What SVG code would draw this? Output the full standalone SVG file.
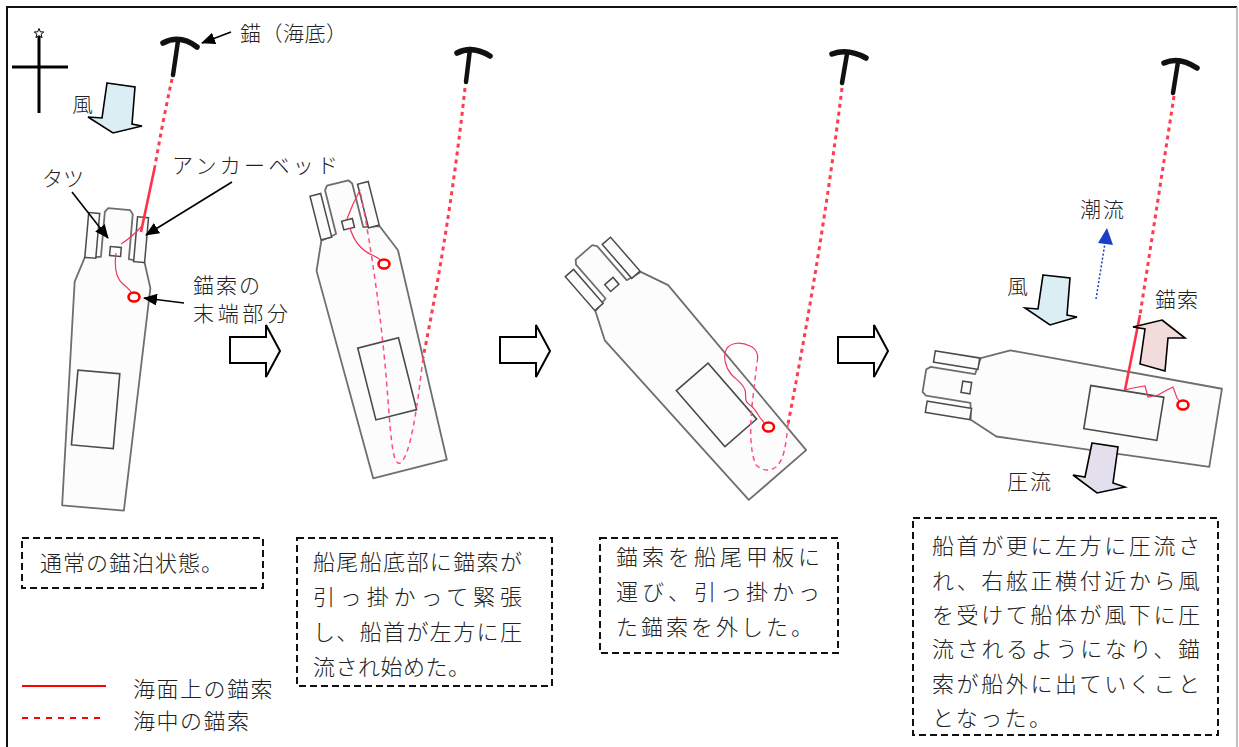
<svg xmlns="http://www.w3.org/2000/svg" width="1239" height="747" viewBox="0 0 1239 747">
<style>
text{font-family:"Noto Sans CJK JP","Noto Sans CJK SC",sans-serif;font-weight:300;fill:#222}
.lbl{font-size:21px}
.note{font-size:22px}
.hull{fill:#fcfcfc;stroke:#6e6e6e;stroke-width:1.8;stroke-linejoin:round}
.fit{fill:#fcfcfc;stroke:#4a4a4a;stroke-width:1.5}
.house{fill:none;stroke:#4a4a4a;stroke-width:1.6}
.sea{fill:none;stroke:#ff3b4e;stroke-width:3;stroke-dasharray:4 4}
.top{fill:none;stroke:#ff3048;stroke-width:2.6}
.thin{fill:none;stroke:#f2365a;stroke-width:1.2}
.loop{fill:none;stroke:#ff4f78;stroke-width:1.5;stroke-dasharray:5 4}
.end{fill:none;stroke:#ff0000;stroke-width:2.6}
.anc{fill:none;stroke:#111;stroke-linecap:round}
.box{fill:none;stroke:#111;stroke-width:2;stroke-dasharray:7 4}
.step{fill:#fff;stroke:#000;stroke-width:2}
.ptr{fill:none;stroke:#000;stroke-width:1.6;marker-end:url(#ah)}
.force{stroke:#000;stroke-width:1.6;stroke-linejoin:miter}
</style>
<defs>
  <marker id="ah" viewBox="0 0 14 12" refX="13" refY="6" markerWidth="14" markerHeight="12" markerUnits="userSpaceOnUse" orient="auto" preserveAspectRatio="none">
    <path d="M0,0 L14,6 L0,12 Z" fill="#000"/>
  </marker>
  <!-- standard hull outline: stern centre at origin, bow toward -y -->
  <path id="hull" class="hull" d="M-38,0 L-42,-215 L-30,-243 L-14,-246 L-14,-291 L-11,-295 L11,-295 L14,-291 L14,-246 L30,-243 L42,-215 L38,0 Z"/>
  <!-- anchor beds and bitt near the bow -->
  <g id="fittings">
    <rect class="fit" x="-30" y="-289" width="11" height="45"/>
    <rect class="fit" x="19" y="-289" width="11" height="45"/>
    <rect class="fit" x="-5.5" y="-257" width="11" height="9"/>
  </g>
  <rect id="house" class="house" x="-21" y="-130" width="42" height="74"/>
  <path id="step" class="step" d="M0,12 L36,12 L36,0 L50,26 L36,52 L36,38 L0,38 Z"/>
</defs>

<rect width="1239" height="747" fill="#fff"/>
<!-- frame -->
<path d="M7,747 L7,7 L1237,7" fill="none" stroke="#111" stroke-width="2"/>
<path d="M1237,7 L1237,747" fill="none" stroke="#aaa" stroke-width="1.5"/>

<!-- compass -->
<g id="compass">
  <path d="M39,36 L39,113 M12,67 L68,67" stroke="#000" stroke-width="3" fill="none"/>
  <path d="M39,28.5 L40.3,31.8 L43.8,32 L41.1,34.2 L42,37.6 L39,35.7 L36,37.6 L36.9,34.2 L34.2,32 L37.7,31.8 Z" fill="#fff" stroke="#000" stroke-width="1"/>
</g>

<!-- ship 1: normal anchoring -->
<g id="ship-1">
  <g transform="translate(93,508) rotate(5)">
    <path class="hull" d="M-31,0 L-38,-224 L-30,-249 L-14,-251 L-14,-296 L-11,-300 L11,-300 L14,-296 L14,-251 L30,-249 L38,-224 L31,0 Z"/>
    <use href="#fittings" transform="translate(0,-5)"/>
    <rect class="house" x="-27" y="-136" width="42" height="75"/>
  </g>
</g>
<g id="anchor-1">
  <path class="anc" d="M163,43 Q180,34 197,47" stroke-width="5.5"/>
  <path class="anc" d="M178,41 L173,75" stroke-width="4.5"/>
</g>

<!-- ship 2 -->
<g id="ship-2">
  <g transform="translate(410,469) rotate(-14.2)">
    <use href="#hull"/>
    <use href="#fittings"/>
    <use href="#house"/>
  </g>
</g>
<g id="anchor-2">
  <path class="anc" d="M457,53 Q472,45 490,56" stroke-width="5.5"/>
  <path class="anc" d="M470,49 L466,82" stroke-width="4.5"/>
</g>

<!-- ship 3 -->
<g id="ship-3">
  <g transform="translate(777.5,475) rotate(-41)">
    <use href="#hull"/>
    <use href="#fittings"/>
    <use href="#house"/>
  </g>
</g>
<g id="anchor-3">
  <path class="anc" d="M832,54 Q848,48 866,58" stroke-width="5.5"/>
  <path class="anc" d="M847,54 L842,83" stroke-width="4.5"/>
</g>

<!-- ship 4 -->
<g id="ship-4">
  <g transform="translate(1215.6,427.8) rotate(-80.8) scale(1.04,1)">
    <use href="#hull"/>
    <use href="#fittings"/>
    <use href="#house"/>
  </g>
</g>
<g id="anchor-4">
  <path class="anc" d="M1164,63 Q1179,56 1197,68" stroke-width="5.5"/>
  <path class="anc" d="M1178,62 L1173,93" stroke-width="4.5"/>
</g>

<!-- anchor cables -->
<g id="connectors">
  <!-- ship 1 -->
  <path class="sea" d="M172,79 Q163,120 155,166"/>
  <path class="top" d="M155,166 L141,232"/>
  <path class="thin" d="M142,226 Q131,238 121,244"/>
  <path class="thin" d="M116,253 Q113,276 123,284 Q129,289 131,292"/>
  <ellipse class="end" cx="134" cy="297" rx="5.5" ry="4.5"/>
  <!-- ship 2 -->
  <path class="sea" d="M465,88 Q450,225 423,358"/>
  <path class="loop" d="M423,358 C417,410 410,458 400,463 C393,466 391,440 388,400 C383,330 372,250 360,190"/>
  <path class="thin" d="M360,190 Q352,205 347,219"/>
  <path class="thin" d="M350,228 Q356,248 372,255 Q379,258 381,261"/>
  <ellipse class="end" cx="384" cy="264" rx="5.5" ry="4.5"/>
  <!-- ship 3 -->
  <path class="sea" d="M842,88 Q822,250 788,424"/>
  <path class="loop" d="M788,424 C786,445 784,460 776,467 Q766,474 756,465 C749,450 750,420 753,397 L757,362"/>
  <path class="thin" d="M757,362 C759,355 756,348 750,346 C742,342 732,342 727,348 C722,356 726,368 731,374 C736,380 742,382 745,390 C747,396 743,401 750,405 C756,409 758,416 762,420 L765,424"/>
  <ellipse class="end" cx="768.5" cy="427" rx="5.5" ry="4.5"/>
  <!-- ship 4 -->
  <path class="sea" d="M1174,96 Q1158,200 1140,315"/>
  <path class="top" d="M1140,315 L1125,390"/>
  <path class="thin" d="M1125,390 L1133,388 L1145,386 L1148,397 L1158,395 L1167,390 L1173,387 L1177,398 L1180,402"/>
  <ellipse class="end" cx="1183" cy="405" rx="5.5" ry="4.5"/>

  <!-- label pointers -->
  <path class="ptr" d="M231,32 L202,43"/>
  <path class="ptr" d="M72,192 L108,238"/>
  <path class="ptr" d="M232,182 L146,235"/>
  <path class="ptr" d="M184,303 L144,298"/>

  <!-- tidal current -->
  <path d="M1096,299 L1105,243" fill="none" stroke="#1a3fc4" stroke-width="1.5" stroke-dasharray="2 2"/>
  <path d="M1107,228 L1113,245 L1098,243 Z" fill="#1a3fc4"/>
</g>

<!-- sequence arrows -->
<use href="#step" transform="translate(230,325)"/>
<use href="#step" transform="translate(500,325)"/>
<use href="#step" transform="translate(838,325)"/>

<!-- wind / force arrows -->
<path class="force" fill="#dbeef4" d="M107,83 L135,87 L132,124 L142,126 L113,133 L88,117 L102,118 Z"/>
<path class="force" fill="#dbeef4" d="M1043,275 L1070,278 L1067,315 L1077,317 L1050,325 L1025,308 L1038,309 Z"/>
<path class="force" fill="#f2dcdb" d="M1162,320 L1185,338 L1168,338 L1165,371 L1140,364 L1145,329 L1133,327 Z"/>
<path class="force" fill="#e4dfec" d="M1092,443 L1118,447 L1113,483 L1125,487 L1097,493 L1073,475 L1085,477 Z"/>

<!-- labels -->
<text class="lbl" x="240" y="41" letter-spacing="0.5">錨（海底）</text>
<text class="lbl" x="72" y="112">風</text>
<text class="lbl" x="42" y="186">タツ</text>
<text class="lbl" x="172" y="173" textLength="166" lengthAdjust="spacing">アンカーベッド</text>
<text class="lbl" x="193" y="293" letter-spacing="2">錨索の</text>
<text class="lbl" x="193" y="321" textLength="95" lengthAdjust="spacing">末端部分</text>
<text class="lbl" x="1080" y="217" letter-spacing="2">潮流</text>
<text class="lbl" x="1007" y="294">風</text>
<text class="lbl" x="1155" y="307" letter-spacing="1">錨索</text>
<text class="lbl" x="1007" y="489" letter-spacing="2">圧流</text>

<!-- captions -->
<g id="note-1">
  <rect class="box" x="22" y="538" width="241" height="50"/>
  <text class="note" x="40" y="571" letter-spacing="1">通常の錨泊状態。</text>
</g>
<g id="note-2">
  <rect class="box" x="297" y="538" width="255" height="148"/>
  <text class="note" x="313" y="570" textLength="209" lengthAdjust="spacing">船尾船底部に錨索が</text>
  <text class="note" x="313" y="605" textLength="209" lengthAdjust="spacing">引っ掛かって緊張</text>
  <text class="note" x="313" y="640" textLength="209" lengthAdjust="spacing">し、船首が左方に圧</text>
  <text class="note" x="313" y="675" letter-spacing="0.5">流され始めた。</text>
</g>
<g id="note-3">
  <rect class="box" x="600" y="538" width="238" height="115"/>
  <text class="note" x="616" y="565" textLength="204" lengthAdjust="spacing">錨索を船尾甲板に</text>
  <text class="note" x="616" y="600" textLength="204" lengthAdjust="spacing">運び、引っ掛かっ</text>
  <text class="note" x="616" y="635" letter-spacing="3">た錨索を外した。</text>
</g>
<g id="note-4">
  <rect class="box" x="913" y="518" width="305" height="217"/>
  <text class="note" x="932" y="554" textLength="268" lengthAdjust="spacing">船首が更に左方に圧流さ</text>
  <text class="note" x="932" y="589" textLength="268" lengthAdjust="spacing">れ、右舷正横付近から風</text>
  <text class="note" x="932" y="623" textLength="268" lengthAdjust="spacing">を受けて船体が風下に圧</text>
  <text class="note" x="932" y="657" textLength="268" lengthAdjust="spacing">流されるようになり、錨</text>
  <text class="note" x="932" y="692" textLength="268" lengthAdjust="spacing">索が船外に出ていくこと</text>
  <text class="note" x="932" y="726" letter-spacing="2.4">となった。</text>
</g>

<!-- legend -->
<g id="legend">
  <path d="M22,686 L106,686" stroke="#ff0000" stroke-width="2"/>
  <path d="M22,718 L100,718" stroke="#ff0000" stroke-width="2" stroke-dasharray="6 6"/>
  <text class="note" x="133" y="697" letter-spacing="1.5">海面上の錨索</text>
  <text class="note" x="133" y="729" letter-spacing="1.5">海中の錨索</text>
</g>
</svg>
